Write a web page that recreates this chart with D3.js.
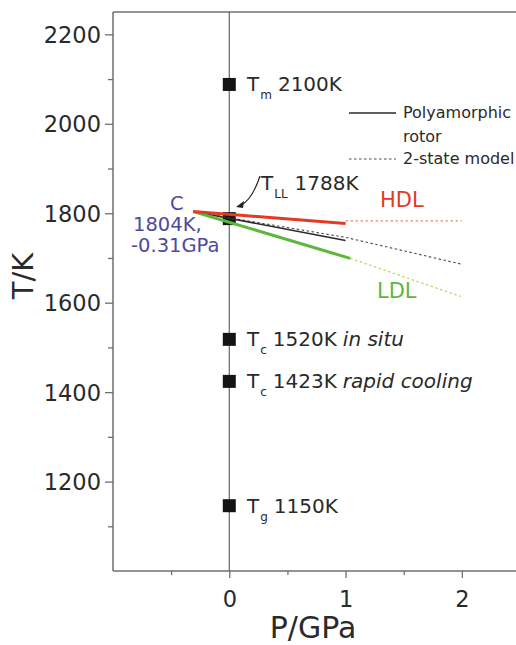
<!DOCTYPE html>
<html>
<head>
<meta charset="utf-8">
<script src="https://cdn.jsdelivr.net/npm/d3@7"></script>
<style>
  body { margin: 0; background: #fff; }
  text { font-family: "DejaVu Sans", sans-serif; fill: #2a2a2a; }
</style>
</head>
<body>
<div id="chart"></div>
<script>
// tick values
const yMajor = [1200, 1400, 1600, 1800, 2000, 2200];
const yMinor = [1100, 1300, 1500, 1700, 1900, 2100];
const xMajor = [0, 1, 2];
const xMinor = [-0.5, 0.5, 1.5];

// characteristic temperatures at ambient pressure
const markerT = [2088, 1788, 1518, 1424, 1146];
const markerSub = ["m", "LL", "c", "c", "g"];
const markerValue = ["2100K", "1788K", "1520K", "1423K", "1150K"];
const markerNote = ["", "", "in situ", "rapid cooling", ""];

// transition lines, pressure (GPa) / temperature (K)
const hdlP = [-0.31, 1.0], hdlT = [1804, 1777];
const hdlDashP = [1.0, 2.0], hdlDashT = [1783, 1783];
const rotorP = [-0.31, 1.0], rotorT = [1804, 1739];
const twoStateP = [-0.31, 0, 1, 2], twoStateT = [1804, 1790, 1746, 1686];
const ldlP = [-0.31, 1.04], ldlT = [1804, 1699];
const ldlDashP = [1.04, 1.99], ldlDashT = [1699, 1614];

const width = 516, height = 645;
const svg = d3.select("#chart").append("svg")
  .attr("width", width).attr("height", height);

const x = d3.scaleLinear().domain([-1, 2.5]).range([113, 520]);
const y = d3.scaleLinear().domain([1000, 2250]).range([571, 12]);

// frame
const frame = "#6f6f6f";
svg.append("line").attr("x1", x(-1)).attr("x2", x(-1)).attr("y1", y(2250)).attr("y2", y(1000))
  .attr("stroke", frame).attr("stroke-width", 1.5);
svg.append("line").attr("x1", x(-1)).attr("x2", width).attr("y1", y(1000)).attr("y2", y(1000))
  .attr("stroke", frame).attr("stroke-width", 1.5);
svg.append("line").attr("x1", x(-1)).attr("x2", width).attr("y1", y(2250)).attr("y2", y(2250))
  .attr("stroke", frame).attr("stroke-width", 1.5);

// axes
const yAxis = svg.append("g").attr("transform", `translate(${x(-1)},0)`)
  .call(d3.axisLeft(y).tickValues(yMajor).tickSize(8).tickPadding(4).tickFormat(d3.format("d")));
const yMin = svg.append("g").attr("transform", `translate(${x(-1)},0)`)
  .call(d3.axisLeft(y).tickValues(yMinor).tickSize(5).tickFormat(""));
const xAxis = svg.append("g").attr("transform", `translate(0,${y(1000)})`)
  .call(d3.axisBottom(x).tickValues(xMajor).tickSize(7).tickPadding(13).tickFormat(d3.format("d")));
const xMin = svg.append("g").attr("transform", `translate(0,${y(1000)})`)
  .call(d3.axisBottom(x).tickValues(xMinor).tickSize(4).tickFormat(""));
[yAxis, yMin, xAxis, xMin].forEach(g => {
  g.select(".domain").remove();
  g.selectAll("line").attr("stroke", frame).attr("stroke-width", 1.3);
});
yAxis.selectAll("text").style("font-size", "22.5px").attr("dy", "0.36em");
xAxis.selectAll("text").style("font-size", "22.5px");

svg.append("text").attr("transform", `translate(33,276) rotate(-90)`)
  .attr("text-anchor", "middle").style("font-size", "29px").text("T/K");
svg.append("text").attr("x", 313).attr("y", 638)
  .attr("text-anchor", "middle").style("font-size", "30px").text("P/GPa");

// zero pressure line
svg.append("line").attr("x1", x(0)).attr("x2", x(0)).attr("y1", y(2250)).attr("y2", y(1000))
  .attr("stroke", "#666").attr("stroke-width", 1.2);

// markers
svg.selectAll("rect.mk").data(markerT).join("rect").attr("class", "mk")
  .attr("x", x(0) - 6.5).attr("y", d => y(d) - 6.5)
  .attr("width", 13).attr("height", 13).attr("fill", "#141414");

// lines
const line = d3.line().x(d => x(d[0])).y(d => y(d[1]));
function drawLine(P, T, color, w, dash) {
  svg.append("path").datum(d3.zip(P, T)).attr("d", line)
    .attr("fill", "none").attr("stroke", color).attr("stroke-width", w)
    .attr("stroke-dasharray", dash || null);
}
drawLine(hdlDashP, hdlDashT, "#f2846e", 1.3, "2.5,2.5");
drawLine(ldlDashP, ldlDashT, "#bcd46a", 1.3, "2.5,2.5");
drawLine(twoStateP, twoStateT, "#4a4a4a", 1.1, "2.5,2.5");
drawLine(rotorP, rotorT, "#2a2a2a", 1.6);
drawLine(ldlP, ldlT, "#5cb83c", 3);
drawLine(hdlP, hdlT, "#e33a22", 3);

// marker labels
markerT.forEach((t, i) => {
  if (i === 1) return;
  const tx = svg.append("text").attr("x", 247).attr("y", y(t) + 7).style("font-size", "20px");
  tx.append("tspan").text("T");
  tx.append("tspan").attr("dy", 8).attr("dx", 1).style("font-size", "12px").text(markerSub[i]);
  tx.append("tspan").attr("dy", -8).attr("dx", 6).text(markerValue[i]);
  if (markerNote[i]) tx.append("tspan").attr("dx", 6).style("font-style", "italic").text(markerNote[i]);
});

// T_LL label with arrow
const tll = svg.append("text").attr("x", 261).attr("y", 190).style("font-size", "20px");
tll.append("tspan").text("T");
tll.append("tspan").attr("dy", 8).attr("dx", 1).style("font-size", "12px").text(markerSub[1]);
tll.append("tspan").attr("dy", -8).attr("dx", 7).text(markerValue[1]);
svg.append("path").attr("d", "M260,176 Q252,200 241,205")
  .attr("fill", "none").attr("stroke", "#222").attr("stroke-width", 1.2);
svg.append("path").attr("d", "M236,207 L244,201 L243,208 Z").attr("fill", "#222");

// critical point label
const blue = "#4b4ba0";
svg.append("text").attr("x", 170).attr("y", 210).style("font-size", "19.5px").style("fill", blue).text("C");
svg.append("text").attr("x", 133).attr("y", 231).style("font-size", "19.5px").style("fill", blue).text("1804K,");
svg.append("text").attr("x", 131).attr("y", 252).style("font-size", "19.5px").style("fill", blue).text("-0.31GPa");

// phase labels
svg.append("text").attr("x", 380).attr("y", 207).style("font-size", "21px").style("fill", "#e33a22").text("HDL");
svg.append("text").attr("x", 377).attr("y", 298).style("font-size", "21px").style("fill", "#5cb83c").text("LDL");

// legend
svg.append("line").attr("x1", 349).attr("x2", 396).attr("y1", 113).attr("y2", 113)
  .attr("stroke", "#2a2a2a").attr("stroke-width", 1.3);
svg.append("line").attr("x1", 349).attr("x2", 396).attr("y1", 159).attr("y2", 159)
  .attr("stroke", "#4a4a4a").attr("stroke-width", 1.1).attr("stroke-dasharray", "2.5,2.5");
svg.append("text").attr("x", 403).attr("y", 118).style("font-size", "16px").text("Polyamorphic");
svg.append("text").attr("x", 403).attr("y", 142).style("font-size", "16px").text("rotor");
svg.append("text").attr("x", 403).attr("y", 164).style("font-size", "16px").text("2-state model");
</script>
</body>
</html>
